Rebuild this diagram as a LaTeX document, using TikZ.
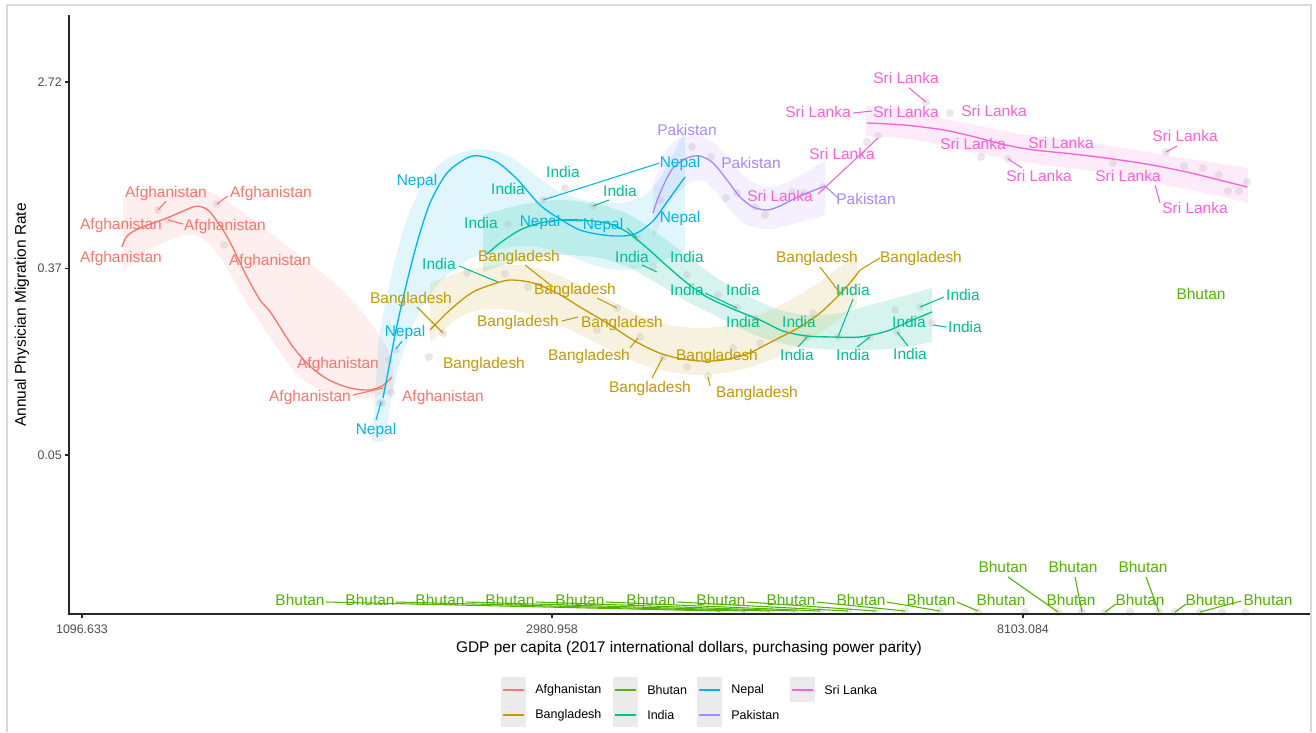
\documentclass[tikz,border=0pt]{standalone}
\usepackage{fontspec}
\setmainfont{Liberation Sans}
\definecolor{cAfg}{HTML}{F8766D}
\definecolor{cBan}{HTML}{C49A00}
\definecolor{cBhu}{HTML}{53B400}
\definecolor{cInd}{HTML}{00C094}
\definecolor{cNep}{HTML}{00B6EB}
\definecolor{cPak}{HTML}{A58AFF}
\definecolor{cSri}{HTML}{FB61D7}
\definecolor{axisgray}{HTML}{4D4D4D}
\begin{document}
\begin{tikzpicture}[x=0.75pt,y=-0.75pt,
  lbl/.style={font=\fontsize{11.6}{13}\selectfont, inner sep=0pt, text height=1.45ex, text depth=0.25ex, text=#1},
  lead/.style={draw=#1, line width=0.8pt},
  smoothcurve/.style={draw=#1, line width=1pt},
  band/.style={fill=#1, fill opacity=0.12, draw=none},
  dot/.style={fill=black!25, fill opacity=0.35, draw=none},
  ticklbl/.style={font=\fontsize{9.3}{11}\selectfont, text=axisgray, inner sep=0pt},
  axtitle/.style={font=\fontsize{11.6}{13}\selectfont, inner sep=0pt},
  keybox/.style={fill=black!8, draw=none},
  keyline/.style={draw=#1, line width=1.5pt},
  keytxt/.style={font=\fontsize{9.4}{11}\selectfont, inner sep=0pt, anchor=west}]
\useasboundingbox (0,0) rectangle (1316,732);
\fill[white] (0,0) rectangle (1316,732);
\draw[black!15, line width=1pt] (7,732) -- (7,5) -- (1311,5) -- (1311,732);

% ---------- confidence bands ----------
\fill[band=cAfg] plot[smooth] coordinates {(123,198) (160,192) (205,191) (235,207) (265,229) (295,252) (325,275) (350,298) (372,325) (388,350) (393,368)}
  -- plot[smooth] coordinates {(393,392) (370,398) (345,397) (320,390) (298,375) (280,352) (262,325) (245,300) (228,270) (212,247) (195,235) (170,240) (145,252) (123,272)} -- cycle;
\fill[band=cNep] plot[smooth] coordinates {(379,335) (386,300) (395,260) (408,216) (425,181) (445,160) (470,150) (492,150) (512,158) (535,175) (560,192) (590,201) (620,203) (645,195) (662,175) (675,150) (685,130)}
  -- plot[smooth] coordinates {(685,250) (650,266) (620,270) (590,264) (560,252) (530,246) (500,249) (470,259) (445,277) (425,302) (410,332) (398,370) (390,405) (384,440) (372,440)} -- cycle;
\fill[band=cPak] plot[smooth] coordinates {(653,185) (665,152) (680,138) (700,136) (715,144) (730,160) (745,177) (765,187) (790,181) (825,160)}
  -- plot[smooth] coordinates {(825,215) (800,222) (770,229) (745,224) (730,210) (715,191) (700,180) (685,186) (670,202) (660,225) (653,240)} -- cycle;
\fill[band=cSri] plot[smooth] coordinates {(866,106) (900,109) (936,117) (975,125) (1014,133) (1053,138) (1093,143) (1132,149) (1171,156) (1210,162) (1248,168)}
  -- plot[smooth] coordinates {(1248,203) (1210,194) (1171,186) (1132,178) (1093,171) (1053,166) (1014,160) (975,153) (936,144) (900,138) (866,136)} -- cycle;
\fill[band=cInd, fill opacity=0.16] plot[smooth] coordinates {(483,215) (520,205) (560,200) (600,205) (630,215) (660,235) (690,258) (720,280) (750,297) (780,310) (810,315) (840,313) (870,305) (900,297) (932,288)}
  -- plot[smooth] coordinates {(932,342) (900,348) (870,350) (840,350) (810,348) (780,343) (750,333) (720,318) (690,303) (660,285) (630,268) (600,258) (560,255) (520,260) (483,272)} -- cycle;
\fill[band=cBan] plot[smooth] coordinates {(430,283) (460,272) (490,266) (520,265) (550,272) (580,285) (610,300) (640,315) (670,325) (700,328) (730,325) (760,315) (790,300) (815,285) (835,270) (857,255)}
  -- plot[smooth] coordinates {(857,305) (830,326) (800,345) (770,360) (740,370) (700,375) (660,370) (630,360) (600,345) (570,330) (540,318) (510,310) (480,310) (455,320) (430,343)} -- cycle;

% ---------- observations ----------
\foreach \p in {(158,210),(217,204),(168,220),(224,245),(389,360),(391,393),(380,403),
  (543,200),(637,238),(396,350),(382,403),(660,200),
  (692,147),(711,157),(737,193),(726,198),(765,215),(792,192),(804,193),(823,187),(755,207),
  (926,102),(950,113),(878,136),(867,142),(981,157),(1008,159),(1113,163),(1166,152),(1184,166),(1203,168),(1219,175),(1228,191),(1239,191),(1247,182),
  (508,224),(565,188),(593,206),(467,273),(505,274),(653,267),(687,275),(718,295),(737,308),(755,318),(813,313),(895,310),(920,307),(932,323),(838,337),(807,337),(870,337),(897,332),
  (443,333),(429,357),(528,287),(617,308),(640,337),(597,330),(687,367),(708,376),(733,348),(760,343),(663,357),(840,293),
  (720,611),(745,611),(770,611),(795,611),(820,611),(848,611),(876,611),(905,611),(940,611),(978,612),(1025,612),(1058,612),(1082,612),(1105,612),(1130,612),(1159,612),(1175,612),(1200,612),(1222,612),(1245,612)}
  \fill[dot] \p circle[radius=3pt];

% ---------- smoothed trends ----------
\draw[smoothcurve=cAfg] plot[smooth] coordinates {(122,247) (127,236) (140,228) (167,218) (193,207) (202,207) (210,212) (223,230) (233,248) (247,277) (260,300) (271,313) (293,347) (311,367) (329,380) (350,388) (368,390) (382,386) (392,377)};
\draw[smoothcurve=cNep] plot[smooth] coordinates {(383,398) (389,367) (396,330) (405,290) (417,243) (430,203) (447,173) (467,158) (480,156) (497,162) (517,179) (540,205) (560,219) (580,230) (603,235) (623,236) (637,233) (653,221) (667,202) (685,177)};
\draw[smoothcurve=cPak] plot[smooth] coordinates {(653,213) (658,198) (665,182) (673,168) (687,158) (700,156) (713,163) (727,180) (740,197) (753,207) (767,210) (780,206) (800,196) (825,186)};
\draw[smoothcurve=cSri] plot[smooth] coordinates {(867,123) (904,125) (944,130) (975,137) (1006,145) (1034,150) (1073,154) (1113,159) (1152,165) (1191,173) (1227,182) (1247,187)};
\draw[smoothcurve=cInd] plot[smooth] coordinates {(487,254) (500,243) (520,230) (540,223) (560,220) (580,220) (607,223) (627,232) (647,248) (667,266) (687,283) (707,297) (733,309) (760,320) (783,331) (807,336) (833,337) (860,337) (887,331) (910,321) (932,312)};
\draw[smoothcurve=cBan] plot[smooth] coordinates {(430,330) (450,310) (473,292) (500,282) (513,280) (533,283) (557,293) (580,307) (607,323) (633,340) (657,352) (677,358) (700,361) (723,360) (747,354) (773,341) (800,327) (820,313) (837,297) (850,283) (860,270)};

% ---------- Afghanistan ----------
\node[lbl=cAfg] (a1) at (166,193) {Afghanistan};
\node[lbl=cAfg] (a2) at (271,193) {Afghanistan};
\node[lbl=cAfg] (a3) at (121,225) {Afghanistan};
\node[lbl=cAfg] (a4) at (225,226) {Afghanistan};
\node[lbl=cAfg] (a5) at (121,258) {Afghanistan};
\node[lbl=cAfg] (a6) at (270,261) {Afghanistan};
\node[lbl=cAfg] (a7) at (338,364) {Afghanistan};
\node[lbl=cAfg] (a8) at (310,397) {Afghanistan};
\node[lbl=cAfg] (a9) at (443,397) {Afghanistan};
\draw[lead=cAfg] (166,201) -- (158,210);
\draw[lead=cAfg] (a2.west) ++(-2,3) -- (217,204);
\draw[lead=cAfg] (a4.west) ++(-1,-2) -- (168,220);
\draw[lead=cAfg] (a8.east) ++(2,-2) -- (383,388);

% ---------- Nepal ----------
\node[lbl=cNep] (n1) at (417,181) {Nepal};
\node[lbl=cNep] (n2) at (680,163) {Nepal};
\node[lbl=cNep] (n3) at (540,222) {Nepal};
\node[lbl=cNep] (n4) at (603,225) {Nepal};
\node[lbl=cNep] (n5) at (680,218) {Nepal};
\node[lbl=cNep] (n6) at (405,332) {Nepal};
\node[lbl=cNep] (n7) at (376,430) {Nepal};
\draw[lead=cNep] (543,200) -- (n2.west);
\draw[lead=cNep] (561,220) -- (582,221);
\draw[lead=cNep] (627,228) -- (637,238);
\draw[lead=cNep] (402,341) -- (396,349);
\draw[lead=cNep] (376,420) -- (381,402);

% ---------- Pakistan ----------
\node[lbl=cPak] (p1) at (687,131) {Pakistan};
\node[lbl=cPak] (p2) at (751,164) {Pakistan};
\node[lbl=cPak] (p3) at (866,200) {Pakistan};
\draw[lead=cPak] (826,187) -- (838,198);

% ---------- Sri Lanka ----------
\node[lbl=cSri] (s1) at (906,79) {Sri Lanka};
\node[lbl=cSri] (s2) at (818,113) {Sri Lanka};
\node[lbl=cSri] (s3) at (906,113) {Sri Lanka};
\node[lbl=cSri] (s4) at (994,112) {Sri Lanka};
\node[lbl=cSri] (s5) at (973,145) {Sri Lanka};
\node[lbl=cSri] (s6) at (1061,144) {Sri Lanka};
\node[lbl=cSri] (s7) at (1185,137) {Sri Lanka};
\node[lbl=cSri] (s8) at (1039,177) {Sri Lanka};
\node[lbl=cSri] (s9) at (1128,177) {Sri Lanka};
\node[lbl=cSri] (s10) at (1195,209) {Sri Lanka};
\node[lbl=cSri] (s11) at (842,155) {Sri Lanka};
\node[lbl=cSri] (s12) at (780,197) {Sri Lanka};
\draw[lead=cSri] (909,88) -- (926,102);
\draw[lead=cSri] (s2.east) ++(2,0) -- (872,111);
\draw[lead=cSri] (1177,146) -- (1166,152);
\draw[lead=cSri] (1022,168) -- (1008,159);
\draw[lead=cSri] (1155,185) -- (1160,203);
\draw[lead=cSri] (818,194) -- (878,138);

% ---------- India ----------
\node[lbl=cInd] (i1) at (563,173) {India};
\node[lbl=cInd] (i2) at (508,190) {India};
\node[lbl=cInd] (i3) at (620,192) {India};
\node[lbl=cInd] (i4) at (481,224) {India};
\node[lbl=cInd] (i5) at (632,258) {India};
\node[lbl=cInd] (i6) at (687,258) {India};
\node[lbl=cInd] (i7) at (439,265) {India};
\node[lbl=cInd] (i8) at (687,291) {India};
\node[lbl=cInd] (i9) at (743,291) {India};
\node[lbl=cInd] (i10) at (743,323) {India};
\node[lbl=cInd] (i11) at (799,323) {India};
\node[lbl=cInd] (i12) at (853,291) {India};
\node[lbl=cInd] (i13) at (963,296) {India};
\node[lbl=cInd] (i14) at (965,328) {India};
\node[lbl=cInd] (i15) at (909,323) {India};
\node[lbl=cInd] (i16) at (797,356) {India};
\node[lbl=cInd] (i17) at (853,356) {India};
\node[lbl=cInd] (i18) at (910,355) {India};
\draw[lead=cInd] (i7.east) ++(3,1) -- (498,282);
\draw[lead=cInd] (593,206) -- (609,200);
\draw[lead=cInd] (642,265) -- (657,272);
\draw[lead=cInd] (705,293) -- (737,308);
\draw[lead=cInd] (798,347) -- (807,337);
\draw[lead=cInd] (853,299) -- (838,337);
\draw[lead=cInd] (857,347) -- (870,337);
\draw[lead=cInd] (908,346) -- (897,332);
\draw[lead=cInd] (i13.west) ++(-2,1) -- (920,307);
\draw[lead=cInd] (i14.west) ++(-2,-1) -- (933,325);

% ---------- Bangladesh ----------
\node[lbl=cBan] (b1) at (519,257) {Bangladesh};
\node[lbl=cBan] (b2) at (575,290) {Bangladesh};
\node[lbl=cBan] (b3) at (411,299) {Bangladesh};
\node[lbl=cBan] (b4) at (518,322) {Bangladesh};
\node[lbl=cBan] (b5) at (622,323) {Bangladesh};
\node[lbl=cBan] (b6) at (484,364) {Bangladesh};
\node[lbl=cBan] (b7) at (589,356) {Bangladesh};
\node[lbl=cBan] (b8) at (717,356) {Bangladesh};
\node[lbl=cBan] (b9) at (650,388) {Bangladesh};
\node[lbl=cBan] (b10) at (757,393) {Bangladesh};
\node[lbl=cBan] (b11) at (817,258) {Bangladesh};
\node[lbl=cBan] (b12) at (921,258) {Bangladesh};
\draw[lead=cBan] (860,270) -- (b12.west);
\draw[lead=cBan] (417,307) -- (443,333);
\draw[lead=cBan] (525,265) -- (553,287);
\draw[lead=cBan] (597,298) -- (617,308);
\draw[lead=cBan] (b4.east) ++(3,-1) -- (578,317);
\draw[lead=cBan] (630,348) -- (638,338);
\draw[lead=cBan] (652,378) -- (663,357);
\draw[lead=cBan] (710,386) -- (708,377);
\draw[lead=cBan] (820,267) -- (840,293);

% ---------- Bhutan ----------
\node[lbl=cBhu] (bh0) at (1201,295) {Bhutan};
\foreach \lx/\qx [count=\k] in {300/720, 370/745, 440/770, 510/795, 580/820, 651/848, 721/876, 791/905, 861/940, 931/978}{
  \node[lbl=cBhu] (bh\k) at (\lx,601) {Bhutan};
  \draw[lead=cBhu] (bh\k.east) ++(1,1) -- (\qx,611);
}
\node[lbl=cBhu] (bh11) at (1001,601) {Bhutan};
\node[lbl=cBhu] (bh12) at (1071,601) {Bhutan};
\node[lbl=cBhu] (bh13) at (1140,601) {Bhutan};
\node[lbl=cBhu] (bh14) at (1210,601) {Bhutan};
\node[lbl=cBhu] (bh15) at (1268,601) {Bhutan};
\node[lbl=cBhu] (bh16) at (1003,568) {Bhutan};
\node[lbl=cBhu] (bh17) at (1073,568) {Bhutan};
\node[lbl=cBhu] (bh18) at (1143,568) {Bhutan};
\draw[lead=cBhu] (1008,577) -- (1058,612);
\draw[lead=cBhu] (1075,577) -- (1082,612);
\draw[lead=cBhu] (1146,577) -- (1159,612);
\draw[lead=cBhu] (1116,604) -- (1105,612);
\draw[lead=cBhu] (1186,604) -- (1175,612);
\draw[lead=cBhu] (bh15.west) ++(-2,0) -- (1200,612);

% ---------- axes ----------
\draw[black!85, line width=1.1pt] (69,15) -- (69,614) -- (1310,614);
\foreach \yy/\tx in {82/2.72, 268.5/0.37, 455/0.05}{
  \draw[black!85, line width=0.8pt] (65,\yy) -- (69,\yy);
  \node[ticklbl, anchor=east] at (62,\yy) {\tx};
}
\foreach \xx/\tx in {82/1096.633, 552/2980.958, 1023/8103.084}{
  \draw[black!85, line width=0.8pt] (\xx,614) -- (\xx,618);
  \node[ticklbl] at (\xx,629) {\tx};
}
\node[axtitle] (xt) at (689,648) {GDP per capita (2017 international dollars, purchasing power parity)};
\node[axtitle, rotate=90] (yt) at (22,315) {Annual Physician Migration Rate};

% ---------- legend ----------
\fill[keybox] (501,677) rectangle (526,727);
\fill[keybox] (613,677) rectangle (638,727);
\fill[keybox] (697,677) rectangle (722,727);
\fill[keybox] (790,677) rectangle (815,702);
\draw[keyline=cAfg] (503,690) -- (524,690);
\draw[keyline=cBan] (503,715) -- (524,715);
\draw[keyline=cBhu] (615,690) -- (636,690);
\draw[keyline=cInd] (615,715) -- (636,715);
\draw[keyline=cNep] (699,690) -- (720,690);
\draw[keyline=cPak] (699,715) -- (720,715);
\draw[keyline=cSri] (792,690) -- (813,690);
\node[keytxt] (lg1) at (535,690) {Afghanistan};
\node[keytxt] (lg2) at (535,715) {Bangladesh};
\node[keytxt] (lg3) at (647,690) {Bhutan};
\node[keytxt] (lg4) at (647,715) {India};
\node[keytxt] (lg5) at (731,690) {Nepal};
\node[keytxt] (lg6) at (731,715) {Pakistan};
\node[keytxt] (lg7) at (824,690) {Sri Lanka};
\end{tikzpicture}
\end{document}
